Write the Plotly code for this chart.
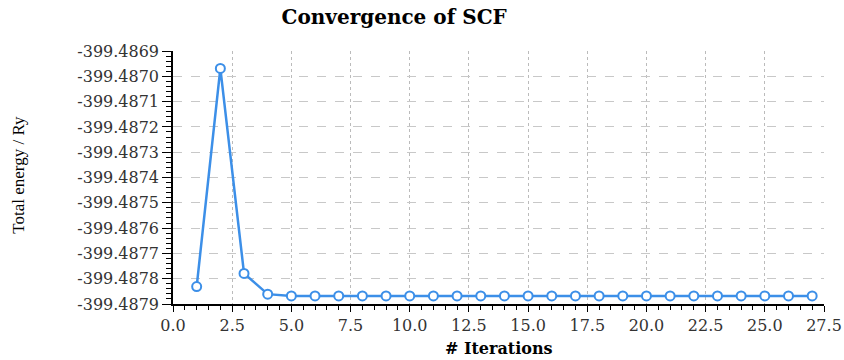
import plotly.graph_objects as go

iterations = list(range(1, 28))
energies = [-399.487831, -399.486969, -399.487779, -399.487861] + [-399.487868] * 23

y_tickvals = [-399.4869 - 0.0001 * i for i in range(11)]
y_ticktext = ["%.4f" % v for v in y_tickvals]

title_text = "Convergence of SCF"
x_title = "# Iterations"
y_title = "Total energy / Ry"

blue = "#3c8fe8"
tickfont = dict(family="DejaVu Serif", size=16, color="#333333")

fig = go.Figure()
fig.add_trace(go.Scatter(
    x=iterations, y=energies, mode="lines+markers",
    line=dict(color=blue, width=2.5),
    marker=dict(symbol="circle", size=9, color="white", line=dict(color=blue, width=2)),
    showlegend=False,
))

fig.update_layout(
    width=844, height=360,
    margin=dict(l=173, r=20, t=51, b=56),
    paper_bgcolor="white", plot_bgcolor="white",
    title=dict(text="<b>" + title_text + "</b>", x=0.467, xref="container", xanchor="center",
               y=0.953, yref="container", yanchor="middle",
               font=dict(family="DejaVu Serif", size=20, color="black")),
    xaxis=dict(
        range=[0, 27.5], tick0=0, dtick=2.5, tickformat=".1f", automargin=False,
        showline=True, linecolor="black", linewidth=1.5,
        ticks="outside", ticklen=6, tickcolor="black", tickwidth=1,
        showgrid=True, gridcolor="#bbbbbb", griddash="dot", gridwidth=1,
        zeroline=False, tickfont=tickfont,
        minor=dict(ticks="outside", ticklen=4, tickcolor="black", nticks=5, showgrid=False),
    ),
    yaxis=dict(
        range=[-399.4879, -399.4869], tickvals=y_tickvals, ticktext=y_ticktext, automargin=False,
        showline=True, linecolor="black", linewidth=1.5,
        ticks="outside", ticklen=9, tickcolor="black", tickwidth=1,
        showgrid=True, gridcolor="#c8c8c8", griddash="dash", gridwidth=1,
        zeroline=False, tickfont=tickfont,
        minor=dict(ticks="outside", ticklen=5, tickcolor="black", dtick=0.00002, tick0=-399.4879, showgrid=False),
    ),
    annotations=[
        dict(text="<b>" + x_title + "</b>", xref="paper", yref="paper", x=0.5, y=-0.175,
             xanchor="center", yanchor="middle", showarrow=False,
             font=dict(family="DejaVu Serif", size=16, color="black")),
        dict(text=y_title, xref="paper", yref="paper", x=-0.237, y=0.51, textangle=-90,
             xanchor="center", yanchor="middle", showarrow=False,
             font=dict(family="Liberation Serif", size=17, color="black")),
    ],
)

fig.write_html("out.html")
